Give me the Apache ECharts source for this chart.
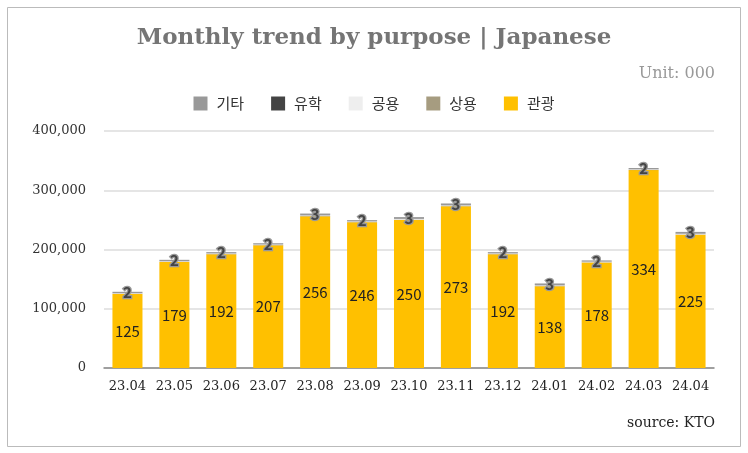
<!DOCTYPE html>
<html><head><meta charset="utf-8">
<script src="https://cdn.jsdelivr.net/npm/echarts@6/dist/echarts.min.js"></script>
<style>html,body{margin:0;padding:0;background:#fff}#c{width:748px;height:453px}</style>
</head><body><div id="c"></div>
<script>
var categories = ['23.04','23.05','23.06','23.07','23.08','23.09','23.10','23.11','23.12','24.01','24.02','24.03','24.04'];
var tourism  = [125000,179000,192000,207000,256000,246000,250000,273000,192000,138000,178000,334000,225000];
var business = [500,500,500,500,600,500,600,600,500,600,500,500,600];
var official = [900,900,900,900,900,900,900,900,900,900,900,900,900];
var study    = [200,200,200,200,200,200,200,200,200,200,200,200,200];
var other    = [2000,2000,2000,2000,3000,2000,3000,3000,2000,3000,2000,2000,3000];
var yTicks = [0,100000,200000,300000,400000];

var serif = '"DejaVu Serif","Liberation Serif",serif';
var kr = '"Noto Sans CJK KR",sans-serif';
var chart = echarts.init(document.getElementById('c'));
function fmt(v){return String(v).replace(/\B(?=(\d{3})+(?!\d))/g, ',');}
var barW = '64%';
chart.setOption({
  animation:false,
  title:[{text:'Monthly trend by purpose | Japanese',left:'center',top:22,
    textStyle:{fontFamily:serif,fontWeight:'bold',fontSize:23,color:'#757575'}},
    {text:'Unit: 000',right:28,top:61,textStyle:{fontFamily:serif,fontWeight:'normal',fontSize:16,color:'#999'}},
    {text:'source: KTO',right:28,top:411,textStyle:{fontFamily:serif,fontWeight:'normal',fontSize:14,color:'#222'}}],
  graphic:[{type:'rect',shape:{x:7.5,y:7.5,width:733,height:439},style:{fill:'none',stroke:'#bbb',lineWidth:1}}],
  legend:{top:91,left:'center',itemWidth:14,itemHeight:14,itemGap:27,icon:'rect',
    textStyle:{fontFamily:kr,fontSize:15,color:'#333',padding:[0,0,0,4]},
    data:['기타','유학','공용','상용','관광']},
  grid:{left:104,right:34,top:131,bottom:85},
  xAxis:{type:'category',data:categories,
    axisLine:{lineStyle:{color:'#888',width:1.5}},axisTick:{show:false},
    axisLabel:{interval:0,fontFamily:serif,fontSize:13,color:'#222',margin:12}},
  yAxis:{type:'value',min:yTicks[0],max:yTicks[yTicks.length-1],interval:100000,
    axisLine:{show:false},axisTick:{show:false},
    splitLine:{lineStyle:{color:'#ddd',width:1.5}},
    axisLabel:{fontFamily:serif,fontSize:13,color:'#333',margin:18,formatter:function(v){return fmt(v);}}},
  series:[
    {name:'관광',type:'bar',stack:'s',barWidth:barW,data:tourism,itemStyle:{color:'#ffc000'},
      label:{show:true,position:'inside',fontFamily:kr,fontSize:15,color:'#222',
        formatter:function(p){return Math.round(p.value/1000);}}},
    {name:'상용',type:'bar',stack:'s',barWidth:barW,data:business,itemStyle:{color:'#a69c80'}},
    {name:'공용',type:'bar',stack:'s',barWidth:barW,data:official,itemStyle:{color:'#eeeeee'}},
    {name:'유학',type:'bar',stack:'s',barWidth:barW,data:study,itemStyle:{color:'#444444'}},
    {name:'기타',type:'bar',stack:'s',barWidth:barW,data:other,itemStyle:{color:'#999999'},
      label:{show:true,position:'inside',fontFamily:kr,fontSize:15,fontWeight:'bold',color:'#444',
        textBorderColor:'#999',textBorderWidth:2.5,
        formatter:function(p){return Math.round(p.value/1000);}}}
  ]
});
</script></body></html>
